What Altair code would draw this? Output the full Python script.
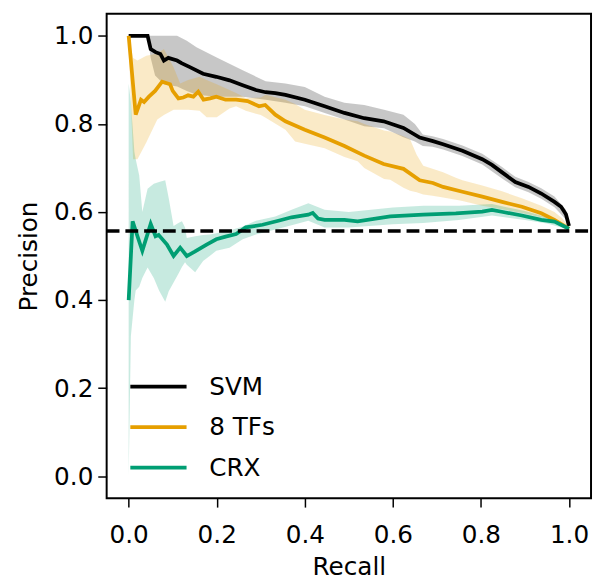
import altair as alt
import pandas as pd

series_names = ["SVM", "8 TFs", "CRX"]
series_colors = ["#000000", "#E69F00", "#009E73"]
baseline = 0.557
x_ticks = [0.0, 0.2, 0.4, 0.6, 0.8, 1.0]
y_ticks = [0.0, 0.2, 0.4, 0.6, 0.8, 1.0]

# ---- SVM ----
svm_recall = [0, 0.043, 0.05, 0.061, 0.072, 0.08, 0.09, 0.11, 0.12, 0.139, 0.169, 0.199, 0.229,
              0.259, 0.289, 0.311, 0.333, 0.356, 0.40, 0.445, 0.49, 0.535, 0.579, 0.624, 0.661,
              0.691, 0.714, 0.758, 0.803, 0.825, 0.848, 0.878, 0.908, 0.937, 0.967, 0.982, 0.993, 1.0]
svm_prec = [1.0, 1.0, 0.97, 0.963, 0.959, 0.944, 0.95, 0.944, 0.938, 0.929, 0.914, 0.907, 0.899,
            0.888, 0.877, 0.872, 0.87, 0.866, 0.855, 0.84, 0.825, 0.813, 0.806, 0.791, 0.769,
            0.761, 0.754, 0.739, 0.72, 0.707, 0.69, 0.668, 0.657, 0.642, 0.623, 0.612, 0.595, 0.568]
svm_band_recall = [0, 0.043, 0.05, 0.06, 0.08, 0.11, 0.132, 0.154, 0.2, 0.259, 0.311, 0.356, 0.40,
                   0.445, 0.49, 0.535, 0.58, 0.624, 0.65, 0.668, 0.69, 0.714, 0.758, 0.803, 0.848,
                   0.878, 0.908, 0.937, 0.967, 0.993, 1.0]
svm_lo = [1.0, 1.0, 0.95, 0.91, 0.89, 0.885, 0.875, 0.866, 0.862, 0.862, 0.855, 0.848, 0.84,
          0.825, 0.81, 0.795, 0.79, 0.77, 0.76, 0.75, 0.748, 0.742, 0.727, 0.708, 0.676,
          0.656, 0.645, 0.63, 0.611, 0.583, 0.565]
svm_hi = [1.0, 1.0, 1.0, 1.0, 1.0, 1.0, 0.989, 0.974, 0.951, 0.922, 0.897, 0.892, 0.884,
          0.862, 0.848, 0.843, 0.832, 0.821, 0.80, 0.776, 0.772, 0.766, 0.751, 0.732, 0.702,
          0.68, 0.668, 0.654, 0.635, 0.605, 0.57]

# ---- 8 TFs ----
tf_recall = [0, 0.016, 0.028, 0.035, 0.046, 0.06, 0.076, 0.085, 0.094, 0.10, 0.113, 0.124, 0.135,
             0.147, 0.158, 0.17, 0.185, 0.199, 0.22, 0.244, 0.27, 0.296, 0.31, 0.333, 0.356, 0.40,
             0.445, 0.49, 0.535, 0.579, 0.624, 0.661, 0.691, 0.714, 0.758, 0.803, 0.848, 0.893,
             0.937, 0.967, 1.0]
tf_prec = [1.0, 0.821, 0.855, 0.85, 0.862, 0.875, 0.896, 0.893, 0.89, 0.875, 0.858, 0.86, 0.865,
           0.862, 0.873, 0.855, 0.858, 0.862, 0.855, 0.855, 0.852, 0.84, 0.843, 0.821, 0.806, 0.787,
           0.769, 0.75, 0.728, 0.709, 0.698, 0.672, 0.666, 0.657, 0.646, 0.635, 0.623, 0.612,
           0.597, 0.582, 0.562]
tf_band_recall = [0, 0.01, 0.02, 0.04, 0.065, 0.08, 0.102, 0.117, 0.135, 0.161, 0.177, 0.2, 0.229,
                  0.244, 0.266, 0.30, 0.311, 0.356, 0.378, 0.40, 0.445, 0.49, 0.52, 0.535, 0.58,
                  0.594, 0.624, 0.639, 0.654, 0.669, 0.69, 0.714, 0.743, 0.758, 0.803, 0.848, 0.893,
                  0.937, 0.967, 0.985, 1.0]
tf_lo = [0.98, 0.72, 0.72, 0.758, 0.81, 0.82, 0.832, 0.832, 0.832, 0.83, 0.815, 0.815, 0.835,
         0.84, 0.83, 0.82, 0.814, 0.787, 0.76, 0.755, 0.745, 0.725, 0.715, 0.70, 0.675,
         0.673, 0.655, 0.648, 0.645, 0.64, 0.637, 0.633, 0.628, 0.625, 0.614, 0.606, 0.598,
         0.588, 0.581, 0.572, 0.558]
tf_hi = [1.0, 0.95, 0.944, 0.955, 0.96, 0.97, 0.929, 0.892, 0.90, 0.907, 0.90, 0.89, 0.877,
         0.87, 0.859, 0.86, 0.866, 0.855, 0.845, 0.832, 0.82, 0.81, 0.806, 0.80, 0.785,
         0.783, 0.772, 0.765, 0.73, 0.705, 0.698, 0.69, 0.678, 0.672, 0.66, 0.647, 0.631,
         0.614, 0.60, 0.585, 0.566]

# ---- CRX ----
crx_recall = [0, 0.009, 0.02, 0.031, 0.05, 0.061, 0.068, 0.087, 0.102, 0.117, 0.132, 0.15, 0.177,
              0.199, 0.22, 0.244, 0.266, 0.304, 0.34, 0.37, 0.408, 0.418, 0.43, 0.445, 0.49, 0.52,
              0.594, 0.669, 0.743, 0.803, 0.825, 0.85, 0.893, 0.937, 0.967, 1.0]
crx_prec = [0.40, 0.579, 0.545, 0.512, 0.573, 0.545, 0.548, 0.526, 0.50, 0.519, 0.50, 0.51, 0.526,
            0.538, 0.544, 0.55, 0.565, 0.571, 0.58, 0.588, 0.594, 0.598, 0.585, 0.582, 0.582, 0.579,
            0.59, 0.594, 0.597, 0.601, 0.605, 0.60, 0.592, 0.582, 0.578, 0.562]
crx_band_recall = [0, 0.005, 0.013, 0.016, 0.024, 0.031, 0.043, 0.057, 0.069, 0.083, 0.091, 0.102,
                   0.113, 0.121, 0.128, 0.132, 0.151, 0.169, 0.184, 0.199, 0.229, 0.259, 0.289,
                   0.333, 0.37, 0.408, 0.445, 0.5, 0.6, 0.669, 0.75, 0.825, 0.9, 0.95, 1.0]
crx_lo = [0.0, 0.318, 0.40, 0.422, 0.43, 0.45, 0.474, 0.45, 0.422, 0.396, 0.42, 0.44,
          0.46, 0.475, 0.486, 0.48, 0.463, 0.489, 0.50, 0.512, 0.519, 0.538, 0.549,
          0.56, 0.57, 0.58, 0.565, 0.565, 0.572, 0.575, 0.582, 0.592, 0.582, 0.574, 0.56]
crx_hi = [0.892, 0.85, 0.736, 0.72, 0.683, 0.60, 0.653, 0.664, 0.668, 0.672, 0.631, 0.568,
          0.575, 0.579, 0.565, 0.541, 0.545, 0.548, 0.549, 0.552, 0.558, 0.567, 0.58,
          0.59, 0.605, 0.62, 0.605, 0.60, 0.61, 0.614, 0.614, 0.618, 0.602, 0.588, 0.564]

line_sets = [(svm_recall, svm_prec), (tf_recall, tf_prec), (crx_recall, crx_prec)]
band_sets = [(svm_band_recall, svm_lo, svm_hi), (tf_band_recall, tf_lo, tf_hi),
             (crx_band_recall, crx_lo, crx_hi)]

line_rows = []
for name, (rs, ps) in zip(series_names, line_sets):
    for i, (r, p) in enumerate(zip(rs, ps)):
        line_rows.append({"series": name, "recall": r, "precision": p, "idx": i})
lines_df = pd.DataFrame(line_rows)

FONT = "DejaVu Sans"
W = 491
H = 491

xscale = alt.Scale(domain=[-0.05, 1.05], nice=False, zero=False)
yscale = alt.Scale(domain=[-0.05, 1.05], nice=False, zero=False)
cscale = alt.Scale(domain=series_names, range=series_colors)
xaxis = alt.Axis(values=x_ticks, format=".1f", title="Recall", labelPadding=16, titlePadding=7)
yaxis = alt.Axis(values=y_ticks, format=".1f", title="Precision", labelPadding=5, titlePadding=12)

band_layers = []
for name, col, (rs, lo, hi) in zip(series_names, series_colors, band_sets):
    df = pd.DataFrame({"recall": rs, "lo": lo, "hi": hi})
    band_layers.append(
        alt.Chart(df).mark_area(opacity=0.22, color=col).encode(
            x=alt.X("recall:Q", scale=xscale, axis=xaxis),
            y=alt.Y("lo:Q", scale=yscale, axis=yaxis),
            y2="hi:Q",
        )
    )

lines = alt.Chart(lines_df).mark_line(strokeWidth=3.8).encode(
    x=alt.X("recall:Q", scale=xscale, axis=xaxis),
    y=alt.Y("precision:Q", scale=yscale, axis=yaxis),
    color=alt.Color(
        "series:N",
        scale=cscale,
        legend=alt.Legend(
            title=None, orient="none", legendX=22, legendY=365.5,
            symbolType="stroke", symbolSize=3249, symbolStrokeWidth=3.8,
            labelFontSize=25, labelFont=FONT, labelColor="black", labelOffset=21,
            clipHeight=25, rowPadding=15, padding=0,
        ),
    ),
    order="idx:Q",
)

rule = alt.Chart(pd.DataFrame({"b": [baseline]})).mark_rule(
    strokeDash=[13, 6], strokeWidth=3.5, color="black"
).encode(
    y=alt.Y("b:Q", scale=yscale, axis=yaxis),
    x=alt.value(0),
    x2=alt.value(W),
)

chart = alt.layer(*band_layers, lines, rule).properties(
    width=W, height=H,
    autosize=alt.AutoSizeParams(type="none"),
    padding={"left": 100, "top": 2, "right": 2, "bottom": 81},
).configure_view(
    stroke="black", strokeWidth=2
).configure_axis(
    grid=False, domain=False,
    tickColor="black", tickWidth=1.5, tickSize=9,
    labelFont=FONT, labelFontSize=25, labelColor="black",
    titleFont=FONT, titleFontSize=25, titleColor="black", titleFontWeight="normal",
)

chart.save("out.html", embed_options={"renderer": "svg", "actions": False})
